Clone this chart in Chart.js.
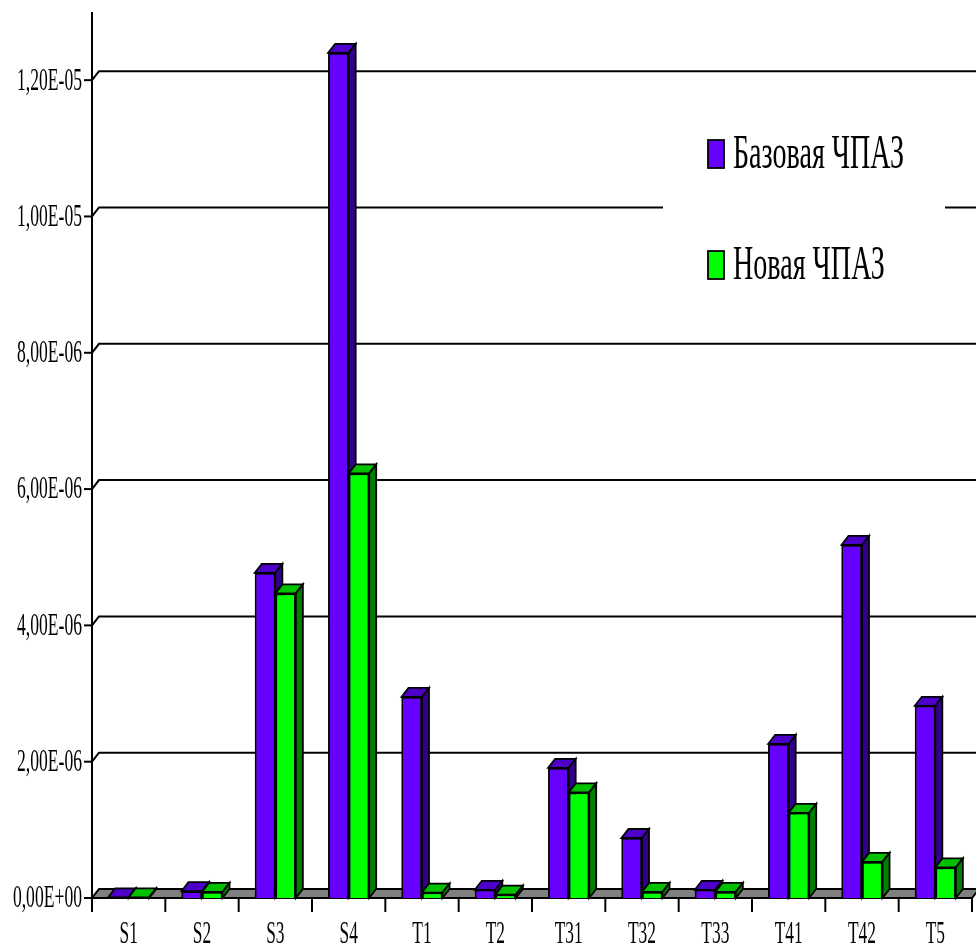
<!DOCTYPE html>
<html>
<head>
<meta charset="utf-8">
<script src="https://cdn.jsdelivr.net/npm/chart.js@4"></script>
<style>
  html, body { margin: 0; padding: 0; background: #ffffff; }
  canvas { display: block; }
</style>
</head>
<body>
<canvas id="chart" width="976" height="947"></canvas>
<script>
// data
const categories = ['S1', 'S2', 'S3', 'S4', 'T1', 'T2', 'T31', 'T32', 'T33', 'T41', 'T42', 'T5'];
const seriesNames = ['Базовая ЧПАЗ', 'Новая ЧПАЗ'];
const baseValues = [1e-8, 1.0e-7, 4.77e-6, 1.24e-5, 2.95e-6, 1.2e-7, 1.91e-6, 8.8e-7, 1.2e-7, 2.26e-6, 5.18e-6, 2.82e-6];
const newValues = [1e-8, 9e-8, 4.47e-6, 6.23e-6, 8e-8, 5e-8, 1.55e-6, 9e-8, 9e-8, 1.25e-6, 5.3e-7, 4.5e-7];
const yTicks = [0, 2e-6, 4e-6, 6e-6, 8e-6, 1e-5, 1.2e-5];
const yTickLabels = ['0,00E+00', '2,00E-06', '4,00E-06', '6,00E-06', '8,00E-06', '1,00E-05', '1,20E-05'];

const frontColors = ['#6600ff', '#00ff00'];
const topColors = ['#4d00c8', '#00c000'];
const sideColors = ['#33008c', '#008000'];

const DEPTH_X = 7;   // 3d offset of the back plane
const DEPTH_Y = -9;
const FONT = '"Liberation Serif", "Times New Roman", serif';

// the original fonts are very narrow: draw with a horizontal scale
function narrowText(ctx, text, x, y, size, squeeze, align) {
  ctx.save();
  ctx.font = size + 'px ' + FONT;
  ctx.fillStyle = '#000000';
  ctx.textAlign = align;
  ctx.textBaseline = 'middle';
  ctx.translate(x, y);
  ctx.scale(squeeze, 1);
  ctx.fillText(text, 0, 0);
  ctx.restore();
}

function poly(ctx, pts, fill) {
  ctx.beginPath();
  ctx.moveTo(pts[0][0], pts[0][1]);
  for (let i = 1; i < pts.length; i++) ctx.lineTo(pts[i][0], pts[i][1]);
  ctx.closePath();
  ctx.fillStyle = fill;
  ctx.fill();
  ctx.stroke();
}

const pseudo3d = {
  id: 'pseudo3d',
  beforeDatasetsDraw(chart) {
    const ctx = chart.ctx;
    const area = chart.chartArea;
    const x = chart.scales.x;
    const y = chart.scales.y;
    const w = chart.width;

    ctx.save();
    ctx.strokeStyle = '#000000';
    ctx.lineWidth = 2;

    // gridlines on the back wall
    for (const v of yTicks) {
      if (v === 0) continue;
      const py = y.getPixelForValue(v);
      ctx.beginPath();
      ctx.moveTo(area.left, py);
      ctx.lineTo(area.left + DEPTH_X, py + DEPTH_Y);
      ctx.lineTo(w, py + DEPTH_Y);
      ctx.stroke();
    }

    // floor
    const y0 = y.getPixelForValue(0);
    poly(ctx, [
      [area.left, y0],
      [area.left + DEPTH_X, y0 + DEPTH_Y],
      [area.right + DEPTH_X, y0 + DEPTH_Y],
      [area.right, y0]
    ], '#808080');

    // value axis
    ctx.beginPath();
    ctx.moveTo(area.left, area.top);
    ctx.lineTo(area.left, y0 + 14);
    ctx.stroke();

    yTicks.forEach((v, i) => {
      const py = y.getPixelForValue(v);
      ctx.beginPath();
      ctx.moveTo(area.left - 8, py);
      ctx.lineTo(area.left, py);
      ctx.stroke();
      narrowText(ctx, yTickLabels[i], area.left - 10, py + 1, 32, 0.55, 'right');
    });

    // category axis
    const half = (x.getPixelForValue(1) - x.getPixelForValue(0)) / 2;
    categories.forEach((c, i) => {
      const px = x.getPixelForValue(i);
      ctx.beginPath();
      ctx.moveTo(px + half, y0);
      ctx.lineTo(px + half, y0 + 14);
      ctx.stroke();
      narrowText(ctx, c, px, y0 + 37, 31, 0.56, 'center');
    });
    ctx.restore();
  },
  afterDatasetsDraw(chart) {
    // redraw the bars series by series so side faces overlap correctly
    const ctx = chart.ctx;
    ctx.save();
    chart.data.datasets.forEach((ds, di) => {
      const meta = chart.getDatasetMeta(di);
      meta.data.forEach((bar) => {
        bar.draw(ctx, chart.chartArea);
        const p = bar.getProps(['x', 'y', 'base', 'width'], true);
        const l = p.x - p.width / 2;
        const r = p.x + p.width / 2;
        ctx.strokeStyle = '#000000';
        ctx.lineWidth = 1.8;
        ctx.lineJoin = 'miter';
        poly(ctx, [[l, p.y], [l + DEPTH_X, p.y + DEPTH_Y], [r + DEPTH_X, p.y + DEPTH_Y], [r, p.y]], topColors[di]);
        poly(ctx, [[r, p.y], [r + DEPTH_X, p.y + DEPTH_Y], [r + DEPTH_X, p.base + DEPTH_Y], [r, p.base]], sideColors[di]);
      });
    });
    ctx.restore();
  },
  afterDraw(chart) {
    // legend on a white box that hides the gridline behind it
    const ctx = chart.ctx;
    ctx.save();
    ctx.fillStyle = '#ffffff';
    ctx.fillRect(663, 110, 282, 190);
    const rows = [154, 265];
    seriesNames.forEach((name, i) => {
      ctx.fillStyle = frontColors[i];
      ctx.strokeStyle = '#000000';
      ctx.lineWidth = 1.8;
      ctx.fillRect(708, rows[i] - 14, 16, 28);
      ctx.strokeRect(708, rows[i] - 14, 16, 28);
      narrowText(ctx, name, 733, rows[i] + 1, 48, 0.585, 'left');
    });
    ctx.restore();
  }
};

new Chart(document.getElementById('chart').getContext('2d'), {
  type: 'bar',
  plugins: [pseudo3d],
  data: {
    labels: categories,
    datasets: [
      {
        label: seriesNames[0],
        data: baseValues,
        backgroundColor: frontColors[0],
        borderColor: '#000000',
        borderWidth: 1.8,
        categoryPercentage: 0.56,
        barPercentage: 1.0
      },
      {
        label: seriesNames[1],
        data: newValues,
        backgroundColor: frontColors[1],
        borderColor: '#000000',
        borderWidth: 1.8,
        categoryPercentage: 0.56,
        barPercentage: 1.0
      }
    ]
  },
  options: {
    responsive: false,
    animation: false,
    layout: {
      padding: { left: 92, right: 4, top: 12, bottom: 49 }
    },
    scales: {
      x: { display: false },
      y: { display: false, min: 0, max: 1.3e-5 }
    },
    plugins: {
      legend: { display: false },
      tooltip: { enabled: false }
    }
  }
});
</script>
</body>
</html>
